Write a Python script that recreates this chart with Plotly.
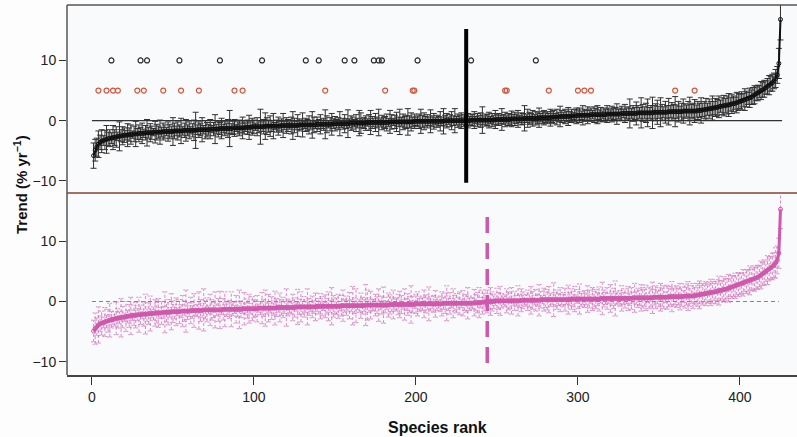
import plotly.graph_objects as go

# ---------------- data ----------------
rank = list(range(1, 426))

trend_top = [
-5.8,-4.9,-4.4,-3.9,-3.6,-3.4,-3.3,-3.2,-3.1,-3.0,
-2.9,-2.9,-2.8,-2.8,-2.7,-2.6,-2.6,-2.5,-2.5,-2.4,
-2.4,-2.4,-2.3,-2.3,-2.3,-2.2,-2.2,-2.2,-2.1,-2.1,
-2.1,-2.1,-2.0,-2.0,-2.0,-2.0,-2.0,-1.9,-1.9,-1.9,
-1.9,-1.9,-1.9,-1.8,-1.8,-1.8,-1.8,-1.8,-1.8,-1.8,
-1.7,-1.7,-1.7,-1.7,-1.7,-1.7,-1.6,-1.6,-1.6,-1.6,
-1.6,-1.6,-1.6,-1.6,-1.5,-1.5,-1.5,-1.5,-1.5,-1.5,
-1.5,-1.5,-1.4,-1.4,-1.4,-1.4,-1.4,-1.4,-1.3,-1.3,
-1.3,-1.3,-1.3,-1.3,-1.3,-1.3,-1.2,-1.2,-1.2,-1.2,
-1.2,-1.2,-1.2,-1.2,-1.1,-1.1,-1.1,-1.1,-1.0,-1.0,
-1.0,-1.0,-1.0,-1.0,-1.0,-1.0,-0.9,-0.9,-0.9,-0.9,
-0.9,-0.9,-0.9,-0.9,-0.9,-0.9,-0.8,-0.8,-0.8,-0.8,
-0.8,-0.8,-0.8,-0.8,-0.8,-0.8,-0.8,-0.7,-0.7,-0.7,
-0.7,-0.7,-0.7,-0.7,-0.7,-0.7,-0.7,-0.7,-0.6,-0.6,
-0.6,-0.6,-0.6,-0.6,-0.6,-0.6,-0.6,-0.6,-0.5,-0.5,
-0.5,-0.5,-0.5,-0.5,-0.5,-0.5,-0.5,-0.5,-0.4,-0.4,
-0.4,-0.4,-0.4,-0.4,-0.4,-0.4,-0.4,-0.4,-0.4,-0.3,
-0.3,-0.3,-0.3,-0.3,-0.3,-0.3,-0.3,-0.3,-0.3,-0.3,
-0.3,-0.3,-0.3,-0.2,-0.2,-0.2,-0.2,-0.2,-0.2,-0.2,
-0.2,-0.2,-0.2,-0.2,-0.2,-0.2,-0.2,-0.2,-0.1,-0.1,
-0.1,-0.1,-0.1,-0.1,-0.1,-0.1,-0.1,-0.1,-0.1,-0.1,
-0.1,-0.1,-0.1,-0.1,-0.1,-0.1,-0.1,0.0,0.0,0.0,
0.0,0.0,0.0,0.0,0.0,0.0,0.0,0.0,0.0,0.0,
0.0,0.0,0.0,0.1,0.1,0.1,0.1,0.1,0.1,0.1,
0.1,0.1,0.1,0.1,0.1,0.1,0.1,0.1,0.2,0.2,
0.2,0.2,0.2,0.2,0.2,0.2,0.2,0.2,0.3,0.3,
0.3,0.3,0.3,0.3,0.3,0.3,0.4,0.4,0.4,0.4,
0.4,0.4,0.4,0.4,0.4,0.5,0.5,0.5,0.5,0.5,
0.5,0.5,0.5,0.6,0.6,0.6,0.6,0.6,0.7,0.7,
0.7,0.7,0.7,0.7,0.7,0.8,0.8,0.8,0.8,0.9,
0.9,0.9,0.9,0.9,0.9,0.9,0.9,1.0,1.0,1.0,
1.0,1.0,1.0,1.0,1.0,1.0,1.0,1.1,1.1,1.1,
1.1,1.1,1.1,1.1,1.1,1.1,1.2,1.2,1.2,1.2,
1.2,1.2,1.2,1.2,1.2,1.2,1.3,1.3,1.3,1.3,
1.3,1.3,1.3,1.3,1.3,1.3,1.4,1.4,1.4,1.4,
1.4,1.4,1.4,1.4,1.4,1.5,1.5,1.5,1.5,1.5,
1.5,1.5,1.5,1.5,1.6,1.6,1.6,1.6,1.6,1.6,
1.6,1.6,1.6,1.7,1.7,1.7,1.8,1.8,1.9,1.9,
2.0,2.0,2.1,2.1,2.2,2.2,2.3,2.4,2.4,2.5,
2.5,2.6,2.6,2.7,2.8,2.8,2.9,3.0,3.1,3.2,
3.3,3.4,3.5,3.6,3.7,3.8,3.9,4.1,4.3,4.5,
4.6,4.8,5.0,5.1,5.3,5.5,5.7,5.9,6.1,6.3,
6.6,7.0,7.6,9.5,16.8]

err_top = [
2.1,1.8,1.5,2.2,1.2,1.9,0.8,1.6,2.3,1.1,
1.4,0.9,2.0,1.3,1.7,0.7,2.4,1.0,1.5,1.2,
0.8,1.9,1.1,1.6,0.6,1.3,2.1,0.9,1.4,1.0,
1.7,0.7,1.2,2.2,0.9,1.5,1.1,0.6,1.8,1.3,
1.0,2.0,0.8,1.4,1.1,0.7,1.6,1.2,0.9,2.3,
1.3,0.8,1.5,1.0,2.1,0.7,1.2,1.8,0.9,1.4,
0.6,1.1,1.7,3.0,0.8,1.3,1.0,2.0,0.7,1.5,
1.2,0.9,1.6,0.6,1.1,2.4,0.8,1.3,1.0,1.7,
0.7,1.2,0.9,1.5,3.0,0.8,1.1,1.4,0.6,1.0,
1.3,0.8,1.8,1.0,0.7,1.2,2.0,0.9,1.4,1.1,
0.6,1.5,1.0,2.9,0.8,1.2,2.2,1.4,1.0,1.7,
0.9,2.1,0.6,1.0,1.5,0.8,1.1,2.0,0.7,1.3,
1.0,0.6,1.4,2.3,1.2,0.7,1.8,1.0,0.8,2.0,
0.6,1.1,0.9,1.5,0.7,2.2,1.3,0.6,1.2,0.8,
1.6,0.7,1.0,2.4,1.4,0.6,1.1,1.8,0.8,1.2,
0.7,1.0,2.0,0.6,0.9,1.5,0.8,2.3,0.7,1.2,
1.0,0.6,1.4,0.8,2.1,1.7,0.7,0.9,1.2,0.6,
1.3,2.0,1.0,0.7,1.5,0.9,2.2,0.6,1.2,0.8,
1.0,1.4,0.7,1.9,1.2,0.6,1.1,1.6,0.8,2.1,
0.7,1.3,0.9,1.1,2.2,1.0,1.5,0.8,1.2,0.7,
0.9,1.2,2.0,1.0,1.4,0.8,1.1,0.7,1.9,0.9,
1.3,0.6,1.0,0.8,1.6,0.7,2.1,0.9,1.2,0.6,
1.0,1.5,0.8,2.0,0.7,1.1,0.9,1.3,0.6,1.0,
0.8,1.2,0.7,1.0,0.9,1.4,0.6,1.1,0.8,1.2,
2.2,0.7,1.0,0.9,1.3,0.6,1.1,0.8,1.5,0.9,
1.0,0.7,1.8,0.8,1.2,0.6,1.0,0.9,1.3,0.7,
1.1,0.8,1.4,0.6,1.0,0.9,2.1,0.7,1.5,1.0,
0.8,1.3,0.6,1.1,0.9,1.6,0.7,1.0,1.2,0.8,
1.0,0.7,1.4,0.9,1.1,0.6,1.3,0.8,1.7,1.0,
0.7,1.2,0.9,1.5,0.8,1.1,0.6,1.0,1.3,0.9,
1.2,0.7,1.6,1.0,0.8,1.4,0.9,1.1,0.7,1.3,
1.0,1.5,0.8,1.2,0.6,1.1,0.9,1.4,1.0,0.7,
1.3,0.9,1.1,1.7,0.8,1.0,1.2,0.7,1.5,0.9,
1.1,2.4,0.8,1.3,1.0,1.9,1.2,0.9,2.5,1.4,
1.0,1.6,2.3,0.9,1.2,2.6,1.1,1.4,2.0,1.0,
2.4,1.3,0.9,1.8,1.1,2.2,1.0,1.5,1.2,2.5,
1.1,1.7,0.9,1.4,2.0,1.2,1.0,1.6,2.3,1.1,
1.3,1.9,1.0,1.5,1.2,2.1,1.1,1.4,1.8,1.0,
1.6,1.2,2.0,1.1,1.5,1.3,1.8,1.0,1.4,1.7,
1.2,1.5,1.9,1.1,1.6,1.3,1.0,1.7,1.4,1.2,
1.5,1.1,1.8,1.3,1.0,1.6,1.2,1.4,1.5,1.1,
1.3,1.0,1.5,1.2,1.4,1.1,1.3,1.6,1.2,1.4,
1.3,1.5,1.4,2.5,3.4]

trend_bottom = [
-4.9,-4.5,-4.2,-3.9,-3.7,-3.6,-3.5,-3.4,-3.3,-3.2,
-3.1,-3.0,-3.0,-2.9,-2.8,-2.8,-2.7,-2.7,-2.6,-2.6,
-2.5,-2.5,-2.4,-2.4,-2.3,-2.3,-2.3,-2.2,-2.2,-2.2,
-2.1,-2.1,-2.1,-2.1,-2.0,-2.0,-2.0,-2.0,-1.9,-1.9,
-1.9,-1.9,-1.9,-1.8,-1.8,-1.8,-1.8,-1.8,-1.7,-1.7,
-1.7,-1.7,-1.7,-1.7,-1.6,-1.6,-1.6,-1.6,-1.6,-1.6,
-1.5,-1.5,-1.5,-1.5,-1.5,-1.5,-1.5,-1.5,-1.4,-1.4,
-1.4,-1.4,-1.4,-1.4,-1.4,-1.4,-1.4,-1.4,-1.4,-1.4,
-1.3,-1.3,-1.3,-1.3,-1.3,-1.3,-1.3,-1.3,-1.3,-1.3,
-1.3,-1.3,-1.2,-1.2,-1.2,-1.2,-1.2,-1.2,-1.2,-1.2,
-1.2,-1.2,-1.1,-1.1,-1.1,-1.1,-1.1,-1.1,-1.1,-1.1,
-1.1,-1.1,-1.1,-1.0,-1.0,-1.0,-1.0,-1.0,-1.0,-1.0,
-1.0,-1.0,-1.0,-1.0,-1.0,-0.9,-0.9,-0.9,-0.9,-0.9,
-0.9,-0.9,-0.9,-0.9,-0.9,-0.9,-0.9,-0.9,-0.8,-0.8,
-0.8,-0.8,-0.8,-0.8,-0.8,-0.8,-0.8,-0.8,-0.8,-0.8,
-0.8,-0.8,-0.8,-0.7,-0.7,-0.7,-0.7,-0.7,-0.7,-0.7,
-0.7,-0.7,-0.7,-0.7,-0.7,-0.7,-0.7,-0.7,-0.6,-0.6,
-0.6,-0.6,-0.6,-0.6,-0.6,-0.6,-0.6,-0.6,-0.6,-0.6,
-0.6,-0.6,-0.6,-0.5,-0.5,-0.5,-0.5,-0.5,-0.5,-0.5,
-0.5,-0.5,-0.5,-0.5,-0.5,-0.5,-0.5,-0.5,-0.5,-0.4,
-0.4,-0.4,-0.4,-0.4,-0.4,-0.4,-0.4,-0.4,-0.4,-0.4,
-0.4,-0.4,-0.4,-0.4,-0.4,-0.4,-0.3,-0.3,-0.3,-0.3,
-0.3,-0.3,-0.3,-0.3,-0.3,-0.3,-0.3,-0.3,-0.3,-0.3,
-0.3,-0.3,-0.3,-0.3,-0.3,-0.2,-0.2,-0.2,-0.2,-0.2,
-0.1,-0.1,-0.1,0.0,0.0,0.0,0.0,0.0,0.1,0.1,
0.1,0.1,0.1,0.1,0.1,0.1,0.1,0.1,0.1,0.1,
0.1,0.1,0.1,0.1,0.2,0.2,0.2,0.2,0.2,0.2,
0.2,0.2,0.2,0.2,0.2,0.2,0.3,0.3,0.3,0.3,
0.3,0.3,0.3,0.3,0.3,0.3,0.3,0.3,0.3,0.3,
0.3,0.3,0.3,0.3,0.4,0.4,0.4,0.4,0.4,0.4,
0.4,0.4,0.4,0.4,0.4,0.4,0.4,0.4,0.4,0.4,
0.4,0.4,0.4,0.5,0.5,0.5,0.5,0.5,0.5,0.5,
0.5,0.5,0.5,0.5,0.5,0.5,0.5,0.5,0.5,0.5,
0.5,0.5,0.5,0.6,0.6,0.6,0.6,0.6,0.6,0.6,
0.6,0.6,0.6,0.6,0.6,0.6,0.7,0.7,0.7,0.7,
0.7,0.7,0.7,0.7,0.7,0.8,0.8,0.8,0.8,0.8,
0.8,0.8,0.8,0.8,0.8,0.9,0.9,0.9,0.9,0.9,
0.9,1.0,1.0,1.1,1.1,1.2,1.2,1.3,1.3,1.4,
1.4,1.5,1.5,1.6,1.6,1.7,1.8,1.8,1.9,2.0,
2.0,2.1,2.2,2.3,2.4,2.5,2.6,2.7,2.8,2.9,
3.0,3.1,3.2,3.3,3.4,3.5,3.6,3.7,3.8,3.9,
4.0,4.2,4.4,4.6,4.8,5.0,5.2,5.4,5.6,5.8,
6.0,6.4,6.9,8.0,15.3]

err_bottom = [
1.8,2.6,1.5,3.0,1.3,2.0,0.9,2.4,1.1,1.9,
2.8,1.4,0.8,1.2,2.7,1.6,1.0,3.2,1.8,0.7,
2.5,1.1,1.9,3.1,0.9,1.7,2.1,1.0,2.9,1.6,
0.8,2.0,3.3,1.2,1.8,2.9,0.7,1.1,2.2,1.7,
2.4,0.9,1.9,1.0,3.4,1.6,2.1,0.8,3.0,1.8,
1.2,2.3,0.7,2.0,1.1,2.6,1.7,3.5,1.4,0.9,
2.2,1.3,2.8,0.8,1.0,3.1,1.8,1.2,3.5,1.5,
2.0,0.7,2.6,1.7,1.3,3.0,1.0,1.9,3.1,0.8,
1.8,2.9,1.2,0.9,1.5,2.9,1.1,0.7,2.3,1.3,
3.2,1.4,0.8,2.7,1.0,1.6,2.4,0.9,2.0,1.5,
1.3,2.2,0.7,1.1,2.6,1.4,3.0,1.0,2.3,0.8,
1.9,1.2,2.8,1.5,0.8,2.4,1.3,1.7,1.0,3.1,
1.4,0.9,1.1,2.2,1.6,0.7,2.9,1.3,2.5,1.2,
1.7,1.0,3.0,1.4,0.8,1.8,1.1,2.3,0.9,1.3,
2.1,1.6,0.7,1.9,1.3,2.4,1.0,3.1,1.8,1.2,
1.4,2.0,0.8,1.7,2.6,1.1,1.6,0.9,2.2,1.0,
3.2,1.3,2.8,0.7,1.1,2.1,1.4,1.0,3.4,2.5,
1.2,2.3,0.9,1.0,1.8,1.4,2.7,0.8,1.5,3.0,
1.3,0.7,2.0,1.6,1.2,2.4,0.9,1.1,1.7,2.2,
1.5,0.8,2.6,1.0,1.8,1.3,3.1,1.4,0.7,1.6,
2.0,1.3,0.9,1.1,2.3,1.5,1.0,2.8,1.2,0.8,
1.4,2.2,1.1,0.7,1.3,2.0,1.0,1.7,2.9,1.2,
1.8,0.8,2.4,1.3,1.6,1.0,1.9,0.7,2.1,1.2,
1.5,2.6,1.2,0.8,1.0,2.2,1.4,1.7,2.5,0.9,
2.0,1.5,0.8,1.9,1.3,2.3,1.6,1.2,0.8,2.1,
1.4,2.4,1.2,0.7,1.0,2.0,1.5,1.3,2.2,0.8,
1.6,0.9,2.5,1.1,1.9,1.4,0.8,1.0,1.7,1.2,
2.3,1.5,0.8,1.8,1.0,2.6,1.4,0.7,1.9,1.3,
1.7,2.2,1.1,0.8,2.8,1.2,1.6,1.0,2.0,0.9,
1.2,1.9,0.8,2.4,1.1,1.7,1.3,2.1,0.7,1.6,
2.5,1.2,0.9,1.4,1.0,2.2,1.5,0.8,1.9,1.3,
1.6,1.1,2.0,0.8,2.7,1.4,1.0,1.8,0.9,2.3,
1.2,1.7,2.9,1.1,0.8,1.3,2.1,1.0,1.6,0.9,
2.0,1.2,1.8,0.9,2.4,1.1,1.6,1.3,2.2,1.7,
1.4,2.1,0.8,1.8,1.5,2.6,1.3,1.9,1.1,1.6,
2.3,1.5,1.9,0.9,2.0,1.7,1.4,2.5,1.6,1.3,
1.8,1.4,2.2,1.6,1.0,2.0,1.5,2.4,1.7,1.2,
2.1,1.6,1.3,1.9,2.3,1.5,1.8,1.4,2.0,1.7,
1.5,2.2,1.8,1.4,2.0,1.6,2.4,1.7,1.5,2.1,
1.8,1.6,2.3,1.5,1.9,1.7,2.1,1.6,2.0,1.8,
1.7,2.2,1.6,2.0,1.8,2.4,1.7,1.9,2.1,1.8,
2.0,1.8,2.3,1.9,2.1,1.7,2.4,2.0,1.9,2.2,
2.1,2.5,2.3,2.5,3.2]

# marker rows in the top panel
black_x = [12, 30, 34, 54, 79, 105, 132, 140, 156, 162, 174, 177, 179, 201, 234, 274]
black_level = 10
red_x = [4, 9, 13, 16, 28, 32, 44, 55, 66, 88, 93, 144, 181, 198, 199, 255, 256,
         282, 300, 304, 308, 360, 372]
red_level = 5

zero_x = [0, 426]
zero_y = [0, 0]
zero_x_bottom = [0, 424]
cross_top_x = [231, 231]
cross_top_y = [-10.3, 15.2]
cross_bottom_x = [244, 244]
cross_bottom_y = [-10.2, 15.2]

x_ticks = [0, 100, 200, 300, 400]
y_ticks = [-10, 0, 10]

# ---------------- styling ----------------
PINK = "#cf58ad"
PINK_ERR = "#d77cc2"
RED = "#d4553a"
split = 182 / 370

fig = go.Figure()

# ---- top panel (x2, y2) ----
fig.add_trace(go.Scatter(x=zero_x, y=zero_y, mode="lines",
                         line=dict(color="#333333", width=1.2),
                         xaxis="x2", yaxis="y2", hoverinfo="skip"))
fig.add_trace(go.Scatter(
    x=rank, y=trend_top, mode="lines+markers",
    line=dict(color="#111111", width=2),
    marker=dict(symbol="circle-open", size=4, color="#111111", line=dict(width=1)),
    error_y=dict(type="data", array=err_top, visible=True, color="#303030",
                 thickness=1, width=3),
    xaxis="x2", yaxis="y2"))
fig.add_trace(go.Scatter(x=cross_top_x, y=cross_top_y, mode="lines",
                         line=dict(color="#000000", width=4),
                         xaxis="x2", yaxis="y2", hoverinfo="skip"))
fig.add_trace(go.Scatter(x=black_x, y=[black_level] * len(black_x), mode="markers",
                         marker=dict(symbol="circle-open", size=5, color="#2b2b2b",
                                     line=dict(width=1.2)),
                         xaxis="x2", yaxis="y2"))
fig.add_trace(go.Scatter(x=red_x, y=[red_level] * len(red_x), mode="markers",
                         marker=dict(symbol="circle-open", size=5, color=RED,
                                     line=dict(width=1.2)),
                         xaxis="x2", yaxis="y2"))

# ---- bottom panel (x, y) ----
ex, ey, cx, cy = [], [], [], []
cap = 1.6
for xi, yi, ei in zip(rank, trend_bottom, err_bottom):
    ex += [xi, xi, None]
    ey += [yi - ei, yi + ei, None]
    cx += [xi - cap, xi + cap, None, xi - cap, xi + cap, None]
    cy += [yi + ei, yi + ei, None, yi - ei, yi - ei, None]

fig.add_trace(go.Scatter(x=zero_x_bottom, y=zero_y, mode="lines",
                         line=dict(color=PINK, width=1.2, dash="4px,3px"),
                         hoverinfo="skip"))
fig.add_trace(go.Scatter(x=ex, y=ey, mode="lines",
                         line=dict(color=PINK_ERR, width=0.9, dash="3px,2px"),
                         hoverinfo="skip"))
fig.add_trace(go.Scatter(x=cx, y=cy, mode="lines",
                         line=dict(color=PINK_ERR, width=0.9, dash="2px,1px"),
                         hoverinfo="skip"))
fig.add_trace(go.Scatter(
    x=rank, y=trend_bottom, mode="lines+markers",
    line=dict(color=PINK, width=3),
    marker=dict(symbol="circle-open", size=4, color=PINK, line=dict(width=1))))
fig.add_trace(go.Scatter(x=cross_bottom_x, y=cross_bottom_y, mode="lines",
                         line=dict(color=PINK, width=3.5, dash="16px,10px"),
                         hoverinfo="skip"))

# ---------------- layout ----------------
tickfont = dict(family="Liberation Sans, Arial, sans-serif", size=14, color="#222222")
x_range = [-15.4, 435.2]

fig.update_layout(
    width=797, height=437,
    margin=dict(l=67, r=0, t=5, b=62, autoexpand=False),
    paper_bgcolor="#fdfdfd",
    plot_bgcolor="#f9fafc",
    showlegend=False,
    xaxis=dict(domain=[0, 1], range=x_range, anchor="y", automargin=False,
               tickvals=x_ticks, ticks="outside", ticklen=8, tickwidth=1.2,
               tickcolor="#333333", tickfont=tickfont,
               showgrid=False, zeroline=False, showline=True,
               linecolor="#444444", linewidth=1.5),
    yaxis=dict(domain=[0, split], range=[-12.2, 18], anchor="x", automargin=False,
               tickvals=y_ticks, ticks="outside", ticklen=7, tickwidth=1.2,
               tickcolor="#333333", tickfont=tickfont,
               showgrid=False, zeroline=False, showline=False),
    xaxis2=dict(domain=[0, 1], range=x_range, anchor="y2", matches="x",
                automargin=False, visible=False),
    yaxis2=dict(domain=[split, 1], range=[-12, 19.2], anchor="x2", automargin=False,
                tickvals=y_ticks, ticks="outside", ticklen=7, tickwidth=1.2,
                tickcolor="#333333", tickfont=tickfont,
                showgrid=False, zeroline=False, showline=False),
    shapes=[
        dict(type="line", xref="paper", yref="paper", x0=0, x1=1, y0=1, y1=1,
             line=dict(color="#555555", width=1.5)),
        dict(type="line", xref="paper", yref="paper", x0=0, x1=0, y0=0, y1=1,
             line=dict(color="#555555", width=1.5)),
        dict(type="line", xref="paper", yref="paper", x0=0, x1=1, y0=split, y1=split,
             line=dict(color="#8a4034", width=1.5)),
    ],
    annotations=[
        dict(text="<b>Species rank</b>", xref="paper", yref="paper",
             x=(437 - 67) / 730, y=0, yshift=-52, xanchor="center", yanchor="middle",
             showarrow=False,
             font=dict(family="Liberation Sans, Arial, sans-serif", size=16, color="#111111")),
        dict(text="<b>Trend (% yr<sup>−1</sup>)</b>", xref="paper", yref="paper",
             x=0, xshift=-47, y=(375 - 185) / 370, xanchor="center", yanchor="middle",
             textangle=-90, showarrow=False,
             font=dict(family="Liberation Sans, Arial, sans-serif", size=15, color="#111111")),
    ],
)

fig.write_html(
    "out.html",
    config={"displayModeBar": False},
    post_script="document.body.style.margin='0';document.body.style.overflow='hidden';",
)
